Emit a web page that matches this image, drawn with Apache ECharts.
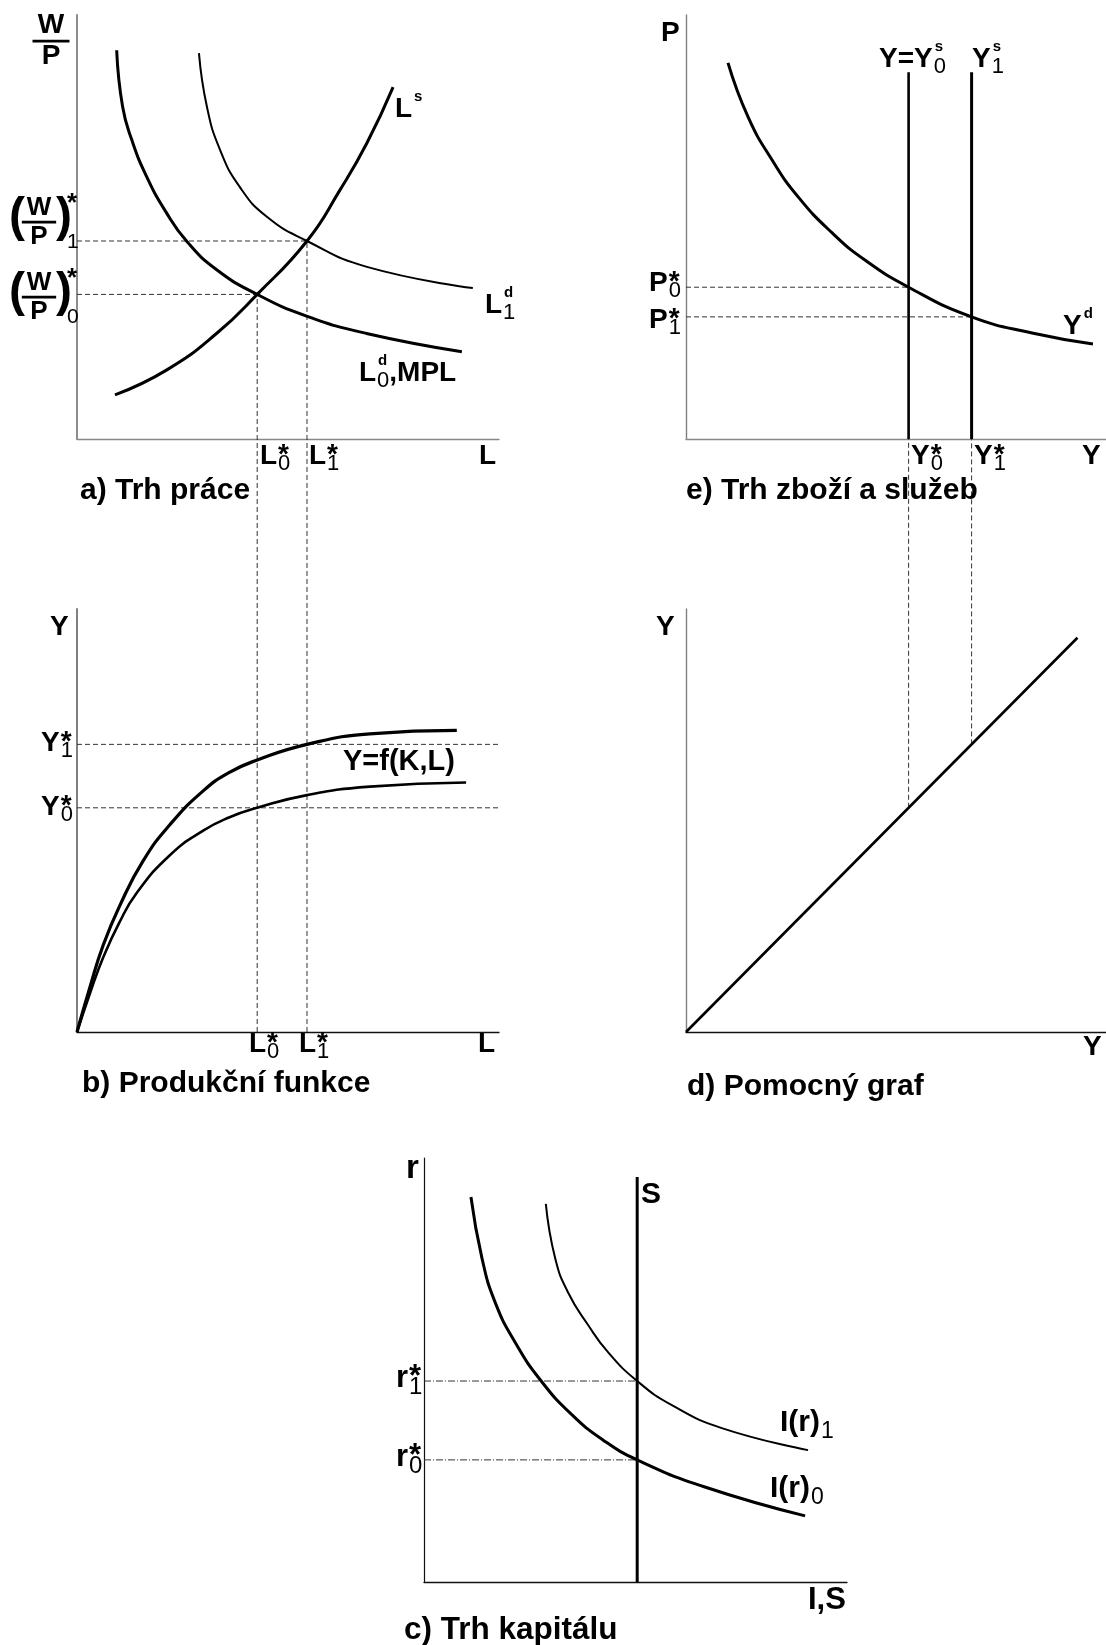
<!DOCTYPE html>
<html>
<head>
<meta charset="utf-8">
<script src="https://cdn.jsdelivr.net/npm/echarts@6/dist/echarts.min.js"></script>
<style>
  html, body { margin: 0; padding: 0; background: #fff; }
  #main { width: 1106px; height: 1645px; }
</style>
</head>
<body>
<div id="main"></div>
<script>
// a) Trh práce  (L, W/P)
const laborDemand0 = [[9.4, 91.7], [10.8, 78.4], [13.0, 70.5], [16.5, 61.9], [21.1, 53.5], [26.1, 46.5], [33.1, 39.9], [42.7, 34.1], [54.4, 29.0], [68.6, 24.9], [91.2, 20.6]];
const laborDemand1 = [[28.9, 91.0], [30.8, 78.3], [33.9, 68.2], [38.6, 59.4], [45.0, 52.4], [54.5, 46.7], [68.7, 40.6], [93.8, 35.6]];
const laborSupply = [[9.0, 10.4], [21.3, 16.3], [33.2, 25.0], [42.7, 34.1], [54.5, 46.7], [62.3, 58.7], [68.7, 69.8], [74.9, 83.0]];
const eqLabor = [42.7, 54.5];   // L0*, L1*
const eqWage = [34.1, 46.7];    // (W/P)0*, (W/P)1*

// b) Produkční funkce  (L, Y)
const prodUpper = [[0, 0], [3.1, 10.7], [6.2, 20.5], [10.2, 30.0], [15.7, 40.5], [22.0, 49.0], [29.9, 57.0], [36.0, 61.3], [42.7, 64.3], [54.5, 68.0], [69.4, 70.5], [90.0, 71.3]];
const prodLower = [[0, 0], [3.1, 9.2], [6.2, 17.6], [10.0, 25.8], [14.1, 32.8], [22.0, 41.8], [29.9, 47.6], [36.0, 50.7], [42.7, 53.0], [54.5, 56.0], [69.4, 58.0], [92.2, 59.0]];
const eqOutput = [53.0, 68.0];  // Y0*, Y1*

// e) Trh zboží a služeb  (Y, P)
const goodsDemand = [[10.0, 88.7], [14.8, 75.9], [20.5, 65.8], [26.7, 57.1], [34.8, 48.6], [42.6, 42.2], [53.0, 35.8], [68.0, 28.8], [82.4, 25.0], [96.9, 22.4]];
const eqPrice = [35.8, 28.8];   // P0*, P1*
const supplyTop = 86.5;

// d) Pomocný graf  (Y, Y)
const helper45 = [[0, 0], [93.2, 93.2]];

// c) Trh kapitálu  (I,S, r)
const invest0 = [[11.1, 90.8], [13.7, 76.4], [16.8, 66.0], [21.5, 56.6], [27.7, 47.4], [35.0, 39.4], [42.3, 33.5], [50.4, 28.8], [66.4, 22.4], [90.1, 15.6]];
const invest1 = [[28.8, 89.2], [31.0, 76.4], [34.0, 68.4], [38.8, 60.6], [43.5, 54.2], [50.4, 47.4], [58.6, 41.7], [70.4, 36.3], [90.8, 31.1]];
const saving = 50.4;
const savingTop = 95.5;
const eqRate = [28.8, 47.4];    // r0*, r1*

const FAM = '"Liberation Sans", Arial, sans-serif';
const chart = echarts.init(document.getElementById('main'));

// grids: 0=a, 1=e, 2=b, 3=d, 4=c
const frames = [
  { left: 77, top: 15, width: 422, height: 424, xc: '#888', yc: '#808080', yw: 1.8 },
  { left: 686, top: 15, width: 420, height: 424, xc: '#888', yc: '#808080', yw: 1.4 },
  { left: 77, top: 609, width: 422, height: 423, xc: '#111', yc: '#808080', yw: 2 },
  { left: 686, top: 609, width: 420, height: 423, xc: '#111', yc: '#808080', yw: 1.4 },
  { left: 424, top: 1158, width: 423, height: 424, xc: '#111', yc: '#111', yw: 1.2 }
];

function axis(i, dir, f) {
  return {
    type: 'value', gridIndex: i, min: 0, max: 100,
    axisLine: { show: true, onZero: false, lineStyle: { color: dir === 'x' ? f.xc : f.yc, width: dir === 'x' ? 1.3 : f.yw } },
    axisTick: { show: false }, axisLabel: { show: false }, splitLine: { show: false }
  };
}

function curve(g, data, width) {
  return {
    type: 'line', xAxisIndex: g, yAxisIndex: g, data: data, smooth: 0.5,
    symbol: 'none', silent: true, z: 3,
    lineStyle: { color: '#000', width: width }
  };
}

const baseSeries = [
  curve(0, laborDemand0, 3),
  curve(0, laborDemand1, 2),
  curve(0, laborSupply, 3),
  curve(2, prodUpper, 3.2),
  curve(2, prodLower, 2.6),
  curve(1, goodsDemand, 3),
  curve(1, [[eqOutput[0], 0], [eqOutput[0], supplyTop]], 2.6),
  curve(1, [[eqOutput[1], 0], [eqOutput[1], supplyTop]], 3),
  curve(3, helper45, 2.6),
  curve(4, invest0, 3),
  curve(4, invest1, 2),
  curve(4, [[saving, 0], [saving, savingTop]], 3)
];

chart.setOption({
  animation: false,
  backgroundColor: '#fff',
  grid: frames.map(f => ({ left: f.left, top: f.top, width: f.width, height: f.height })),
  xAxis: frames.map((f, i) => axis(i, 'x', f)),
  yAxis: frames.map((f, i) => axis(i, 'y', f)),
  series: baseSeries
});

// point of grid "from" expressed in the data space of grid "to"
function across(from, pt, to) {
  return chart.convertFromPixel({ gridIndex: to }, chart.convertToPixel({ gridIndex: from }, pt));
}

function guide(g, a, b, dash) {
  return {
    type: 'line', xAxisIndex: g, yAxisIndex: g, data: [a, b], symbol: 'none',
    silent: true, clip: false, z: 1,
    lineStyle: { color: '#333', width: 1, type: dash || [5, 3] }
  };
}

const guides = [];
for (let k = 0; k < 2; k++) {
  // a) wage level and drop to the production function
  guides.push(guide(0, [0, eqWage[k]], [eqLabor[k], eqWage[k]]));
  guides.push(guide(2, [eqLabor[k], 0], across(0, [eqLabor[k], eqWage[k]], 2)));
  // b) output level across to the 45° line
  guides.push(guide(2, [0, eqOutput[k]], across(3, [eqOutput[k], eqOutput[k]], 2)));
  // d) up to the goods market
  guides.push(guide(3, [eqOutput[k], eqOutput[k]], across(1, [eqOutput[k], eqPrice[k]], 3)));
  // e) price level
  guides.push(guide(1, [0, eqPrice[k]], [eqOutput[k], eqPrice[k]]));
  // c) interest rate
  guides.push(guide(4, [0, eqRate[k]], [saving, eqRate[k]], [7, 2, 1, 2]));
}

// ---- text labels ----
const mctx = document.createElement('canvas').getContext('2d');
function tw(s, size, weight) {
  mctx.font = (weight || 'bold') + ' ' + size + 'px ' + FAM;
  return mctx.measureText(s).width;
}
function txt(x, y, s, size, weight, align) {
  return {
    type: 'text', x: x, y: y, silent: true, z: 10,
    style: { text: s, fontSize: size, fontWeight: weight || 'bold', fontFamily: FAM, fill: '#000', align: align || 'left', verticalAlign: 'middle' }
  };
}
// symbol with optional star, superscript letter, subscript digit and a trailing text
function sym(x, cy, main, o) {
  o = o || {};
  const S = o.size || 28;
  const out = [txt(x, cy, main, S)];
  const xs = x + tw(main, S) + 1;
  let w = 0;
  if (o.star) { out.push(txt(xs, cy - 1, '*', S)); w = Math.max(w, tw('*', S)); }
  if (o.sup) { const s2 = Math.round(S * 0.55); out.push(txt(xs + 1, cy - 0.42 * S, o.sup, s2)); w = Math.max(w, tw(o.sup, s2) + 1); }
  if (o.sub) { const s3 = Math.round(S * 0.78); out.push(txt(xs, cy + 0.3 * S, o.sub, s3, 'normal')); w = Math.max(w, tw(o.sub, s3, 'normal')); }
  if (o.tail) out.push(txt(xs + w, cy, o.tail, S));
  return out;
}
function wp(cx, y, S) {
  return [
    txt(cx, y - 0.55 * S, 'W', S, 'bold', 'center'),
    { type: 'rect', shape: { x: cx - 0.66 * S, y: y - 1.3, width: 1.32 * S, height: 2.8 }, style: { fill: '#000' }, silent: true, z: 10 },
    txt(cx, y + 0.56 * S, 'P', S, 'bold', 'center')
  ];
}
function wpStar(y, sub) {
  return [
    txt(9, y - 3, '(', 48, 'bold'),
    ...wp(39, y + 1, 26),
    txt(56, y - 3, ')', 48, 'bold'),
    txt(67, y - 17, '*', 26),
    txt(67, y + 21, sub, 21, 'normal')
  ];
}

const texts = [
  // a)
  ...wp(51, 41, 28),
  ...wpStar(221, '1'),
  ...wpStar(296, '0'),
  ...sym(395, 109, 'L', { sup: 's' }),
  ...sym(485, 305, 'L', { sup: 'd', sub: '1' }),
  ...sym(359, 373, 'L', { sup: 'd', sub: '0', tail: ',MPL' }),
  ...sym(260, 456, 'L', { star: 1, sub: '0' }),
  ...sym(309, 456, 'L', { star: 1, sub: '1' }),
  txt(479, 456, 'L', 28),
  txt(80, 491, 'a) Trh práce', 30),
  // e)
  txt(661, 33, 'P', 28),
  ...sym(879, 59, 'Y=Y', { sup: 's', sub: '0' }),
  ...sym(972, 59, 'Y', { sup: 's', sub: '1' }),
  ...sym(649, 283, 'P', { star: 1, sub: '0' }),
  ...sym(649, 320, 'P', { star: 1, sub: '1' }),
  ...sym(911, 456, 'Y', { star: 1, sub: '0' }),
  ...sym(974, 456, 'Y', { star: 1, sub: '1' }),
  txt(1082, 456, 'Y', 28),
  ...sym(1063, 326, 'Y', { sup: 'd' }),
  txt(686, 491, 'e) Trh zboží a služeb', 30),
  // b)
  txt(50, 627, 'Y', 28),
  ...sym(41, 743, 'Y', { star: 1, sub: '1' }),
  ...sym(41, 807, 'Y', { star: 1, sub: '0' }),
  ...sym(249, 1044, 'L', { star: 1, sub: '0' }),
  ...sym(299, 1044, 'L', { star: 1, sub: '1' }),
  txt(478, 1044, 'L', 28),
  txt(343, 762, 'Y=f(K,L)', 29),
  txt(82, 1084, 'b) Produkční funkce', 30),
  // d)
  txt(656, 627, 'Y', 28),
  txt(1083, 1047, 'Y', 28),
  txt(687, 1087, 'd) Pomocný graf', 30),
  // c)
  txt(406, 1169, 'r', 33),
  txt(641, 1195, 'S', 30),
  ...sym(396, 1378, 'r', { star: 1, sub: '1', size: 31 }),
  ...sym(396, 1457, 'r', { star: 1, sub: '0', size: 31 }),
  ...sym(780, 1423, 'I(r)', { sub: '1', size: 30 }),
  ...sym(770, 1489, 'I(r)', { sub: '0', size: 30 }),
  txt(808, 1600, 'I,S', 31),
  txt(404, 1630, 'c) Trh kapitálu', 31.5)
];

chart.setOption({
  series: baseSeries.concat(guides),
  graphic: { elements: texts }
});
</script>
</body>
</html>
